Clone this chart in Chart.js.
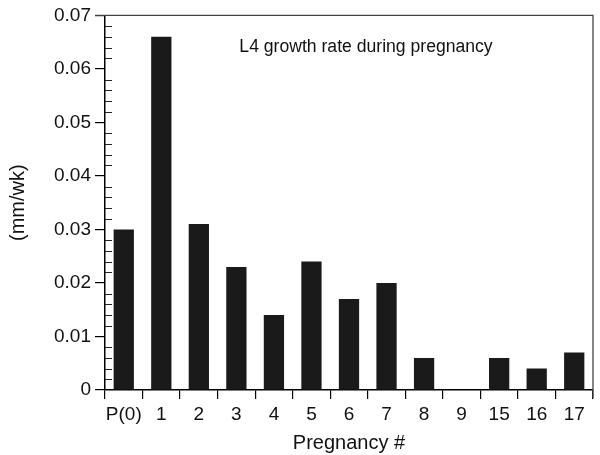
<!DOCTYPE html>
<html><head><meta charset="utf-8">
<script src="https://cdn.jsdelivr.net/npm/chart.js@4/dist/chart.umd.min.js"></script>
<style>html,body{margin:0;padding:0;background:#fff}#wrap{width:600px;height:455px}</style>
</head><body><div id="wrap"><canvas id="c" width="600" height="455"></canvas></div>
<script>
const categories = ["P(0)", "1", "2", "3", "4", "5", "6", "7", "8", "9", "15", "16", "17"];
const growthRate = [0.030, 0.066, 0.031, 0.023, 0.014, 0.024, 0.017, 0.020, 0.006, 0, 0.006, 0.004, 0.007];
const yTicks = [0, 0.01, 0.02, 0.03, 0.04, 0.05, 0.06, 0.07];
const chartTitle = "L4 growth rate during pregnancy";
const xTitle = "Pregnancy #";
const yTitle = "(mm/wk)";

const FONT = "'Liberation Sans', Arial, Helvetica, sans-serif";

const framePlugin = {
  id: 'frame',
  afterDraw(chart) {
    const {ctx, chartArea: a, scales} = chart;
    const y = scales.y;
    ctx.save();
    ctx.strokeStyle = '#444';
    ctx.lineWidth = 1.3;
    ctx.beginPath();
    ctx.moveTo(a.left - 10, a.top);
    ctx.lineTo(a.right, a.top);
    ctx.lineTo(a.right, a.bottom + 8);
    ctx.stroke();
    ctx.strokeStyle = '#222';
    ctx.lineWidth = 1;
    ctx.beginPath();
    for (let i = 1; i < 35; i++) {
      if (i % 5 === 0) continue;
      const py = Math.round(y.getPixelForValue(i * 0.002)) + 0.5;
      ctx.moveTo(a.left, py);
      ctx.lineTo(a.left + 7, py);
    }
    ctx.stroke();
    ctx.fillStyle = '#111';
    ctx.font = "17.6px " + FONT;
    ctx.textAlign = 'center';
    ctx.textBaseline = 'middle';
    ctx.fillText(chartTitle, (a.left + a.right) / 2 + 17, a.top + 32);
    ctx.restore();
  }
};

new Chart(document.getElementById('c'), {
  type: 'bar',
  data: {
    labels: categories,
    datasets: [{
      data: growthRate,
      backgroundColor: '#1a1a1a',
      borderWidth: 0,
      barPercentage: 0.54,
      categoryPercentage: 1.0
    }]
  },
  options: {
    responsive: false,
    animation: false,
    devicePixelRatio: 1,
    layout: {padding: {top: 15, right: 7, left: 0, bottom: 0}},
    plugins: {legend: {display: false}, tooltip: {enabled: false}},
    scales: {
      x: {
        offset: true,
        afterFit(s) { s.height = 65; },
        border: {display: true, color: '#000', width: 1.5},
        grid: {display: true, offset: true, drawOnChartArea: false, drawTicks: true, tickLength: 9, color: '#000', lineWidth: 1.2},
        ticks: {color: '#111', font: {family: FONT, size: 19}, padding: 4, maxRotation: 0, autoSkip: false},
        title: {display: true, text: xTitle, color: '#111', font: {family: FONT, size: 20}, padding: {top: 2, bottom: 0}}
      },
      y: {
        min: 0, max: 0.07,
        afterFit(s) { s.width = 105; },
        afterBuildTicks(s) { s.ticks = yTicks.map(v => ({value: v})); },
        border: {display: true, color: '#000', width: 1.5},
        grid: {display: true, drawOnChartArea: false, drawTicks: true, tickLength: 10, color: '#000', lineWidth: 1.2},
        ticks: {color: '#111', font: {family: FONT, size: 19}, padding: 4,
          callback: v => v === 0 ? '0' : v.toFixed(2)},
        title: {display: true, text: yTitle, color: '#111', font: {family: FONT, size: 20}, padding: {top: 6, bottom: 4}}
      }
    }
  },
  plugins: [framePlugin]
});
</script></body></html>
